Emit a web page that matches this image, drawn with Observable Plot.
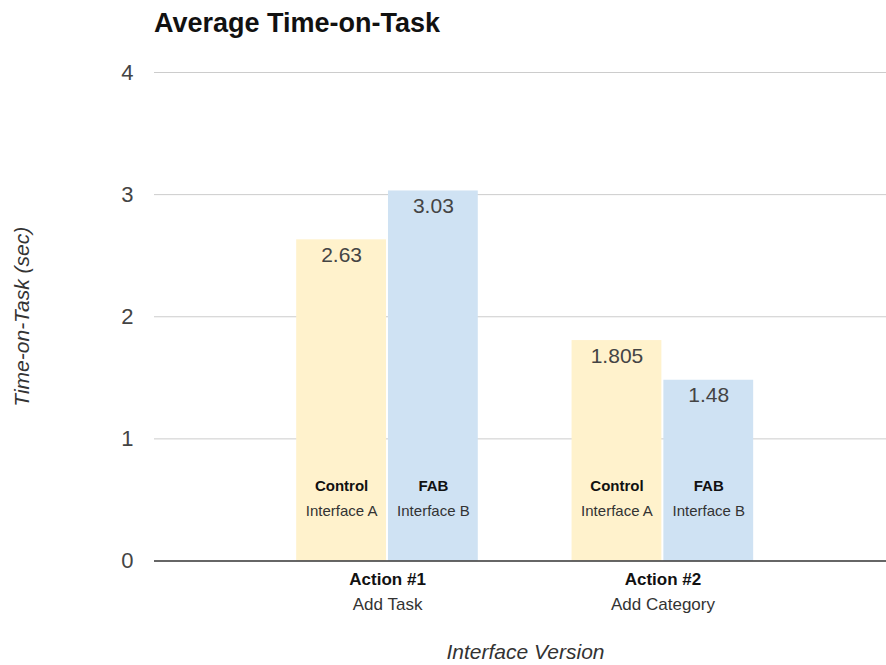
<!DOCTYPE html>
<html>
<head>
<meta charset="utf-8">
<script src="https://cdn.jsdelivr.net/npm/d3@7"></script>
<script src="https://cdn.jsdelivr.net/npm/@observablehq/plot@0.6"></script>
<style>
  html, body { margin: 0; padding: 0; background: #fff; }
  #wrap { position: relative; width: 886px; height: 665px; font-family: "Liberation Sans", Arial, Helvetica, sans-serif; }
  #title { height: 40px; box-sizing: border-box; padding: 9.5px 0 0 154px; font-size: 27px; line-height: 27px; font-weight: bold; color: #111; white-space: nowrap; }
  #chart svg { display: block; }
</style>
</head>
<body>
<div id="wrap">
  <div id="title">Average Time-on-Task</div>
  <div id="chart"></div>
</div>
<script>
// Task groups shown along the bottom
const actions = ["Action #1", "Action #2"];
const actionSubtitles = ["Add Task", "Add Category"];

// Interface versions compared within each task
const interfaces = ["Control", "FAB"];
const interfaceSubtitles = ["Interface A", "Interface B"];

// Average time-on-task in seconds, one value per action
const controlValues = [2.63, 1.805];
const fabValues = [3.03, 1.48];

// Y axis ticks
const yTicks = [0, 1, 2, 3, 4];

const seriesValues = [controlValues, fabValues];
const keyOf = (action, iface) => `${action} · ${iface}`;

const rows = actions.flatMap((action, i) =>
  interfaces.map((iface, j) => ({
    key: keyOf(action, iface),
    action,
    iface,
    sub: interfaceSubtitles[j],
    value: seriesValues[j][i]
  }))
);
const groups = actions.map((action, i) => ({ action, sub: actionSubtitles[i], key: keyOf(action, interfaces[0]) }));

// One band per bar, with an empty band separating the two actions
const xDomain = actions.flatMap((action, i) => [
  ...interfaces.map(iface => keyOf(action, iface)),
  ...(i < actions.length - 1 ? [`gap ${i}`] : [])
]);

const chart = Plot.plot({
  width: 886,
  height: 625,
  marginTop: 32,
  marginBottom: 104.5,
  marginLeft: 154,
  marginRight: 0,
  style: { fontFamily: "'Liberation Sans', Arial, Helvetica, sans-serif", background: "white" },
  x: { domain: xDomain, paddingInner: 0.0218, paddingOuter: 1.498, align: 0.517, round: false, axis: null, label: null },
  y: { domain: [0, 4], axis: null },
  color: { domain: interfaces, range: ["#fff2cc", "#cfe2f3"] },
  marks: [
    // horizontal gridlines
    Plot.ruleY(yTicks.filter(t => t > 0), { stroke: "#cccccc", strokeWidth: 1 }),
    // bars
    Plot.barY(rows, { x: "key", y: "value", fill: "iface" }),
    // baseline
    Plot.ruleY([0], { stroke: "#333333", strokeWidth: 1.5 }),
    // value labels at the top of each bar
    Plot.text(rows, { x: "key", y: "value", text: d => String(d.value), dy: 15.5, fontSize: 21, fill: "#444444" }),
    // interface names inside the bars
    Plot.text(rows, { x: "key", text: "iface", frameAnchor: "bottom", dy: -70.5, fontSize: 15, fontWeight: "bold", fill: "#111111" }),
    Plot.text(rows, { x: "key", text: "sub", frameAnchor: "bottom", dy: -45, fontSize: 15, fill: "#333333" }),
    // action labels below the axis, centred under each pair of bars
    Plot.text(groups, { x: "key", text: "action", frameAnchor: "bottom", dx: 46, dy: 23.5, fontSize: 17, fontWeight: "bold", fill: "#111111" }),
    Plot.text(groups, { x: "key", text: "sub", frameAnchor: "bottom", dx: 46, dy: 48.5, fontSize: 17, fill: "#333333" }),
    // y tick labels
    Plot.text(yTicks, { y: d => d, text: d => String(d), frameAnchor: "left", textAnchor: "end", dx: -21, fontSize: 22, fill: "#444444" }),
    // axis titles
    Plot.text(["Time-on-Task (sec)"], { text: d => d, frameAnchor: "left", textAnchor: "middle", rotate: -90, dx: -132, fontSize: 21, fontStyle: "italic", fill: "#333333" }),
    Plot.text(["Interface Version"], { text: d => d, frameAnchor: "bottom", textAnchor: "middle", dx: 5, dy: 97.5, fontSize: 21, fontStyle: "italic", fill: "#333333" })
  ]
});

document.getElementById("chart").appendChild(chart);
</script>
</body>
</html>
